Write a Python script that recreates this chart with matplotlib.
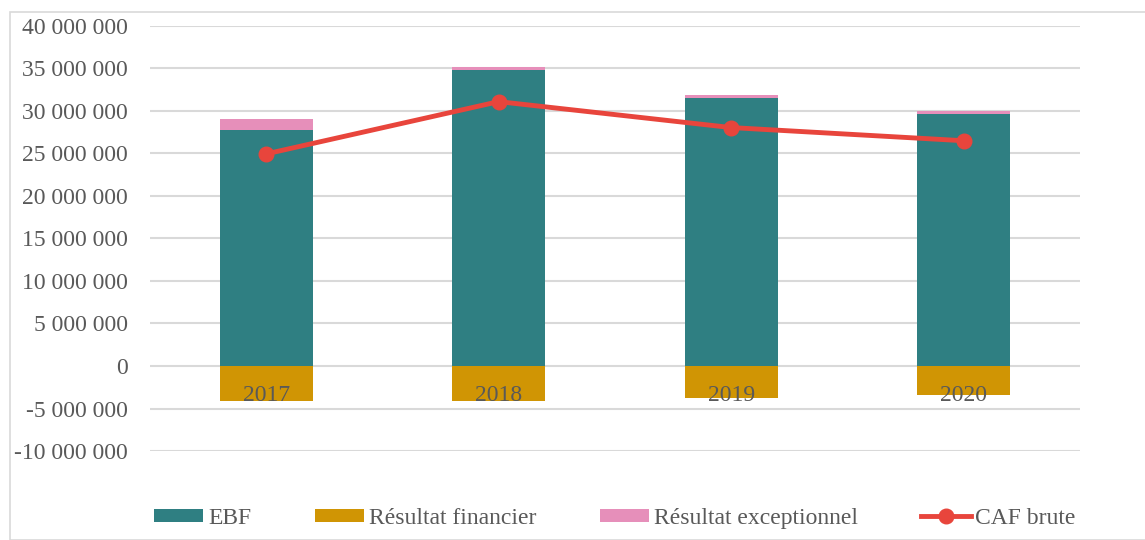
import matplotlib
matplotlib.use("Agg")
import matplotlib.pyplot as plt
import numpy as np
from matplotlib.ticker import FuncFormatter
from matplotlib.patches import Rectangle

years = ["2017", "2018", "2019", "2020"]
ebf = [27760000, 34860000, 31570000, 29700000]
res_fin = [-4080000, -4080000, -3730000, -3410000]
res_exc = [1300000, 350000, 300000, 300000]
caf = [24950000, 31100000, 28050000, 26500000]

c_ebf = "#2F7F82"
c_fin = "#D09504"
c_exc = "#E68FBA"
c_caf = "#E8453C"
c_txt = "#595959"

plt.rcParams["font.family"] = ["Liberation Serif", "DejaVu Serif"]

fig = plt.figure(figsize=(11.45, 5.4), dpi=100)
ax = fig.add_axes([0.131, 0.1648, 0.812, 0.7871])

x = np.arange(len(years))
w = 0.4
ax.bar(x, ebf, w, color=c_ebf, label="EBF", zorder=3)
ax.bar(x, res_fin, w, color=c_fin, label="Résultat financier", zorder=3)
ax.bar(x, res_exc, w, bottom=ebf, color=c_exc, label="Résultat exceptionnel", zorder=3)
ax.plot(x, caf, color=c_caf, lw=3.5, marker="o", markersize=10.5, label="CAF brute", zorder=4)

ax.set_xlim(-0.5, len(years) - 0.5)
ax.set_ylim(-10000000, 40000000)
ax.set_yticks(np.arange(-10000000, 40000001, 5000000))
ax.yaxis.set_major_formatter(FuncFormatter(lambda v, p: f"{int(v):,}".replace(",", " ")))
ax.set_axisbelow(True)
ax.grid(axis="y", color="#D9D9D9", lw=1.5)
# year labels sit on the zero line, drawn over the bars
ax.xaxis.set_zorder(5)

ax.set_xticks(x)
ax.set_xticklabels(years)
ax.spines["bottom"].set_position(("data", 0))
for s in ax.spines.values():
    s.set_visible(False)
ax.tick_params(axis="x", length=0, pad=13.5, labelsize=17, labelcolor=c_txt)
ax.tick_params(axis="y", length=0, pad=16, labelsize=17, labelcolor=c_txt)

handles, labels = ax.get_legend_handles_labels()
order = [1, 2, 3, 0]
ax.legend([handles[i] for i in order], [labels[i] for i in order],
          loc="center", bbox_to_anchor=(0.537, 0.04), bbox_transform=fig.transFigure,
          ncol=4, frameon=False, fontsize=17, labelcolor=c_txt,
          handlelength=2.1, handleheight=0.5, columnspacing=2.68, handletextpad=0.2)

fig.patches.append(Rectangle((10 / 1145, 0), 1.2, 1 - 12 / 540, transform=fig.transFigure,
                             fill=False, edgecolor="#D9D9D9", lw=1.2))

fig.savefig("out.png", dpi=100)
